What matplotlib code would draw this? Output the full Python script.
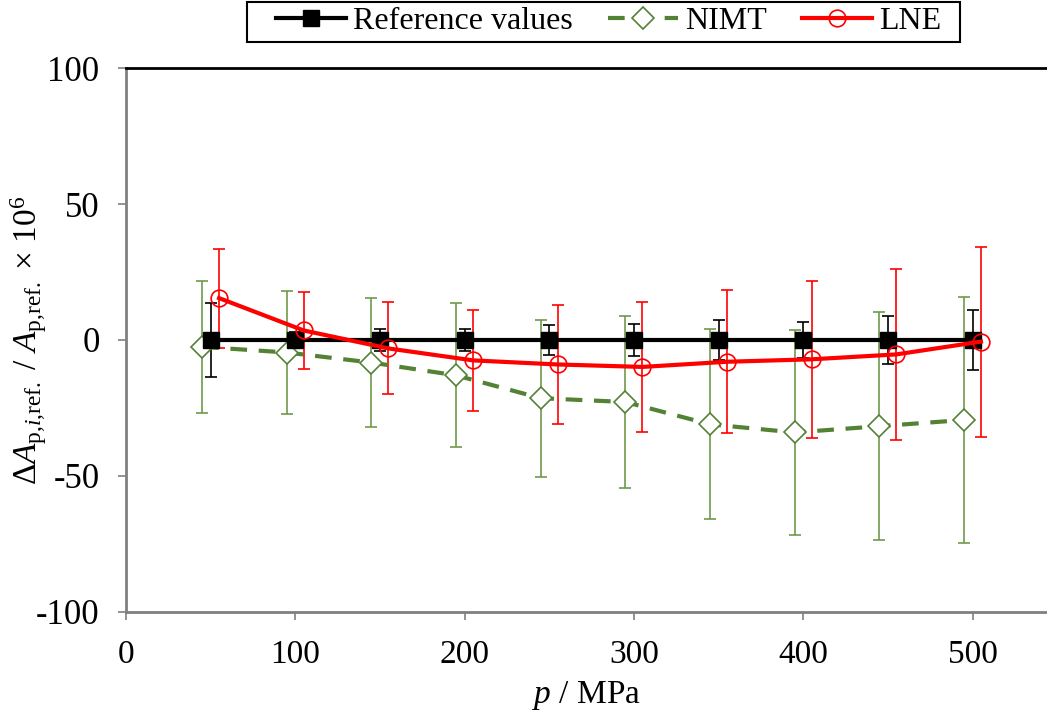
import numpy as np
import matplotlib.pyplot as plt
from matplotlib.patches import Rectangle

plt.rcParams['font.family'] = ['Liberation Serif', 'DejaVu Serif']
plt.rcParams['mathtext.fontset'] = 'custom'
plt.rcParams['mathtext.rm'] = 'Liberation Serif'
plt.rcParams['mathtext.it'] = 'Liberation Serif:italic'
plt.rcParams['axes.unicode_minus'] = False

# pressure points (MPa)
p_ref = [50, 100, 150, 200, 250, 300, 350, 400, 450, 500]
p_nimt = [45, 95, 145, 195, 245, 295, 345, 395, 445, 495]
p_lne = [55, 105, 155, 205, 255, 305, 355, 405, 455, 505]

# relative deviations x 1e6 and expanded uncertainties
ref_val = [0, 0, 0, 0, 0, 0, 0, 0, 0, 0]
ref_err = [13.5, 3, 4, 4, 5.5, 6, 7.5, 6.7, 8.7, 11]
nimt_val = [-2.5, -4.6, -8.3, -13.0, -21.4, -22.8, -31.0, -34.0, -31.7, -29.4]
nimt_err = [24.3, 22.6, 23.7, 26.5, 28.9, 31.7, 35.0, 37.7, 42.0, 45.3]
lne_val = [15.4, 3.5, -3.1, -7.5, -9.0, -9.9, -8.0, -7.1, -5.3, -0.6]
lne_err = [18.2, 14.0, 16.9, 18.6, 22.0, 24.0, 26.3, 28.9, 31.4, 34.9]

fig = plt.figure(figsize=(10.47, 7.13), dpi=100)
ax = fig.add_axes([0.1203, 0.1417, 0.8797, 0.7629])

green = '#548235'
green_err = '#6f9a4a'

ax.errorbar(p_nimt, nimt_val, yerr=nimt_err, fmt='none', ecolor=green_err,
            elinewidth=1.2, capsize=4.5, capthick=1.2, zorder=2)
ax.errorbar(p_lne, lne_val, yerr=lne_err, fmt='none', ecolor='red',
            elinewidth=1.2, capsize=4.5, capthick=1.2, zorder=2)
ax.errorbar(p_ref, ref_val, yerr=ref_err, fmt='none', ecolor='black',
            elinewidth=1.2, capsize=4.5, capthick=1.2, zorder=2)

ax.plot(p_nimt, nimt_val, color=green, lw=3, ls=(0, (4, 2.8)), marker='D',
        ms=11, mfc='white', mec=green, mew=1.2, label='NIMT', zorder=3)
ax.plot(p_ref, ref_val, color='black', lw=3, marker='s', ms=12,
        label='Reference values', zorder=4)
ax.plot(p_lne, lne_val, color='red', lw=3, marker='o', ms=12,
        mfc='none', mec='red', mew=1.2, label='LNE', zorder=5)

ax.set_xlim(0, 544)
ax.set_ylim(-100, 100)
ax.set_xticks([0, 100, 200, 300, 400, 500])
ax.set_yticks([-100, -50, 0, 50, 100])

for s in ['left', 'bottom']:
    ax.spines[s].set_color('#808080')
    ax.spines[s].set_linewidth(2)
ax.spines['top'].set_color('black')
ax.spines['top'].set_linewidth(2)
ax.spines['right'].set_visible(False)
ax.tick_params(axis='both', colors='#808080', labelcolor='black',
               length=6, width=1.2, direction='out')
ax.tick_params(axis='x', labelsize=24, pad=14)
ax.tick_params(axis='y', labelsize=25, pad=13)

ax.set_xlabel(r'$p$ / MPa', fontsize=24, labelpad=6)
ax.set_ylabel(r'$\Delta A_{\mathrm{p}{,}i{,}\mathrm{ref.}}$ / $A_{\mathrm{p{,}ref.}}$ $\times$ 10$^{6}$',
              fontsize=24)
ax.yaxis.label.set_horizontalalignment('center')
ax.yaxis.label.set_verticalalignment('center')
ax.yaxis.set_label_coords(-0.106, 0.5)

# legend without its own frame, boxed separately (box is wider than the entries)
h, l = ax.get_legend_handles_labels()
order = [1, 0, 2]
leg = fig.legend([h[i] for i in order], [l[i] for i in order], loc='center',
                 bbox_to_anchor=(0.5812, 0.9694), ncol=3, fontsize=23,
                 frameon=False, handlelength=2.2, handletextpad=0.22,
                 columnspacing=1.1, borderpad=0.1)
fig.patches.append(Rectangle((247 / 1047, 1 - 42 / 713), 713 / 1047, 40 / 713,
                             transform=fig.transFigure, fill=False,
                             edgecolor='black', lw=1.5))

fig.savefig('out.png', dpi=100)
